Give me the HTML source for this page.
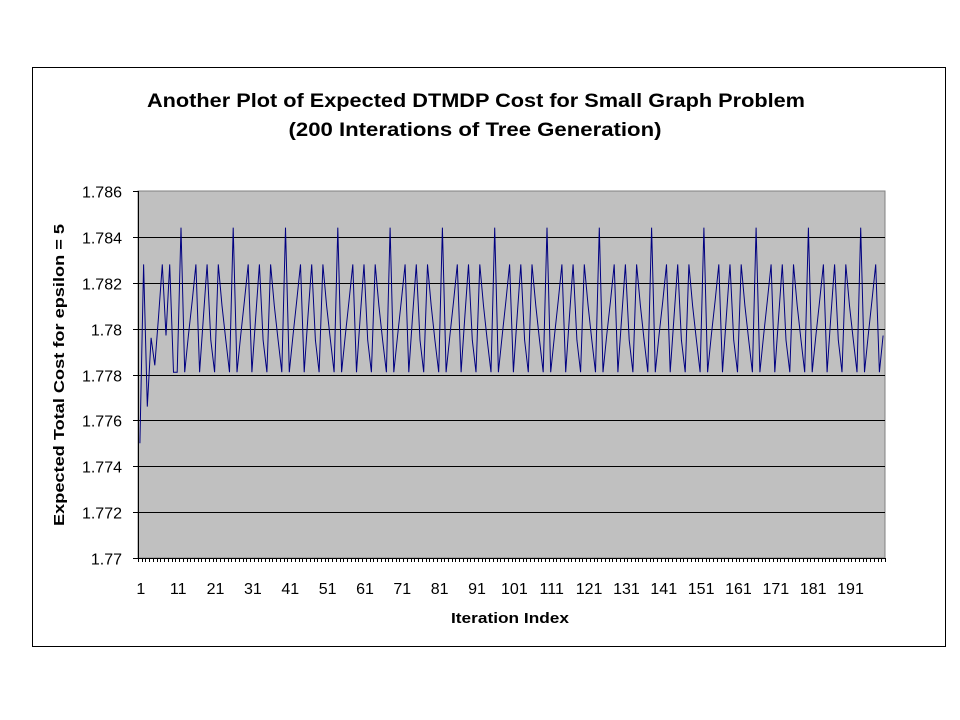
<!DOCTYPE html>
<html><head><meta charset="utf-8"><style>
body{margin:0;background:#fff;}
svg{display:block;font-family:"Liberation Sans",Arial,sans-serif;}
</style></head><body>
<svg width="960" height="720" viewBox="0 0 960 720">
<rect x="32.5" y="67.5" width="913" height="579" fill="#fff" stroke="#000"/>
<text x="476" y="107" text-anchor="middle" font-size="19" font-weight="bold" textLength="658" lengthAdjust="spacingAndGlyphs">Another Plot of Expected DTMDP Cost for Small Graph Problem</text>
<text x="475" y="136" text-anchor="middle" font-size="19" font-weight="bold" textLength="373" lengthAdjust="spacingAndGlyphs">(200 Interations of Tree Generation)</text>
<rect x="138" y="191" width="747" height="367" fill="#c0c0c0" stroke="#808080"/>
<g id="grid"></g>
<g id="yticks"></g>
<g id="xticks"></g>
<polyline id="series" fill="none" stroke="#000080" stroke-width="1"/>
<line x1="138" y1="558.5" x2="885" y2="558.5" stroke="#000"/>
<line x1="138.5" y1="191" x2="138.5" y2="558" stroke="#000"/>
<text x="510" y="623" text-anchor="middle" font-size="15" font-weight="bold" textLength="118" lengthAdjust="spacingAndGlyphs">Iteration Index</text>
<text transform="translate(64,375) rotate(-90)" text-anchor="middle" font-size="15" font-weight="bold" textLength="302" lengthAdjust="spacingAndGlyphs">Expected Total Cost for epsilon = 5</text>
</svg>
<script>
const yTicks=[1.77,1.772,1.774,1.776,1.778,1.78,1.782,1.784,1.786];
const yTickLabels=["1.77","1.772","1.774","1.776","1.778","1.78","1.782","1.784","1.786"];
const xTickLabels=["1","11","21","31","41","51","61","71","81","91","101","111","121","131","141","151","161","171","181","191"];
const costValues=[
1.7750,1.7828,1.7766,1.7796,1.7784,1.7805,1.7828,1.7797,1.7828,1.7781,1.7781,
1.7844,1.7781,1.7797,1.7812,1.7828,1.7781,1.7805,1.7828,1.7795,1.7781,1.7828,1.7810,1.7795,1.7781,
1.7844,1.7781,1.7797,1.7812,1.7828,1.7781,1.7805,1.7828,1.7795,1.7781,1.7828,1.7810,1.7795,1.7781,
1.7844,1.7781,1.7797,1.7812,1.7828,1.7781,1.7805,1.7828,1.7795,1.7781,1.7828,1.7810,1.7795,1.7781,
1.7844,1.7781,1.7797,1.7812,1.7828,1.7781,1.7805,1.7828,1.7795,1.7781,1.7828,1.7810,1.7795,1.7781,
1.7844,1.7781,1.7797,1.7812,1.7828,1.7781,1.7805,1.7828,1.7795,1.7781,1.7828,1.7810,1.7795,1.7781,
1.7844,1.7781,1.7797,1.7812,1.7828,1.7781,1.7805,1.7828,1.7795,1.7781,1.7828,1.7810,1.7795,1.7781,
1.7844,1.7781,1.7797,1.7812,1.7828,1.7781,1.7805,1.7828,1.7795,1.7781,1.7828,1.7810,1.7795,1.7781,
1.7844,1.7781,1.7797,1.7812,1.7828,1.7781,1.7805,1.7828,1.7795,1.7781,1.7828,1.7810,1.7795,1.7781,
1.7844,1.7781,1.7797,1.7812,1.7828,1.7781,1.7805,1.7828,1.7795,1.7781,1.7828,1.7810,1.7795,1.7781,
1.7844,1.7781,1.7797,1.7812,1.7828,1.7781,1.7805,1.7828,1.7795,1.7781,1.7828,1.7810,1.7795,1.7781,
1.7844,1.7781,1.7797,1.7812,1.7828,1.7781,1.7805,1.7828,1.7795,1.7781,1.7828,1.7810,1.7795,1.7781,
1.7844,1.7781,1.7797,1.7812,1.7828,1.7781,1.7805,1.7828,1.7795,1.7781,1.7828,1.7810,1.7795,1.7781,
1.7844,1.7781,1.7797,1.7812,1.7828,1.7781,1.7805,1.7828,1.7795,1.7781,1.7828,1.7810,1.7795,1.7781,
1.7844,1.7781,1.7797,1.7812,1.7828,1.7781,1.7797
];
const NS="http://www.w3.org/2000/svg";
const L=138,R=885,T=191,B=558,yMin=1.77,yMax=1.786;
const n=costValues.length;
const step=(R-L)/n;
function xPos(i){return L+(i+0.5)*step;}
function yPos(v){return B-(v-yMin)/(yMax-yMin)*(B-T);}
const grid=document.getElementById('grid'),yt=document.getElementById('yticks'),xt=document.getElementById('xticks');
yTicks.forEach((v,k)=>{
  const y=Math.round(yPos(v))+0.5;
  if(k>0&&k<yTicks.length-1){
    const g=document.createElementNS(NS,'line');
    g.setAttribute('x1',L);g.setAttribute('x2',R);g.setAttribute('y1',y);g.setAttribute('y2',y);g.setAttribute('stroke','#000');
    
    
    grid.appendChild(g);
  }
  const tk=document.createElementNS(NS,'line');
  tk.setAttribute('x1',L-5);tk.setAttribute('x2',L);tk.setAttribute('y1',y);tk.setAttribute('y2',y);tk.setAttribute('stroke','#000');
  
  
  yt.appendChild(tk);
  const t=document.createElementNS(NS,'text');
  t.setAttribute('x',122);t.setAttribute('y',y+6);t.setAttribute('text-anchor','end');t.setAttribute('font-size','16');
  t.textContent=yTickLabels[k];
  
  
  yt.appendChild(t);
});
for(let i=0;i<=n;i++){
  const x=Math.round(L+i*step)+0.5;
  const tk=document.createElementNS(NS,'line');
  tk.setAttribute('x1',x);tk.setAttribute('x2',x);tk.setAttribute('y1',B);tk.setAttribute('y2',B+4);tk.setAttribute('stroke','#000');
  
  
  xt.appendChild(tk);
}
xTickLabels.forEach((lab,k)=>{
  const t=document.createElementNS(NS,'text');
  t.setAttribute('x',xPos(k*10)+1);t.setAttribute('y',594);t.setAttribute('text-anchor','middle');t.setAttribute('font-size','16');
  t.textContent=lab;
  
  
  xt.appendChild(t);
});
document.getElementById('series').setAttribute('points',costValues.map((v,i)=>xPos(i).toFixed(1)+','+yPos(v).toFixed(1)).join(' '));
</script>
</body></html>
